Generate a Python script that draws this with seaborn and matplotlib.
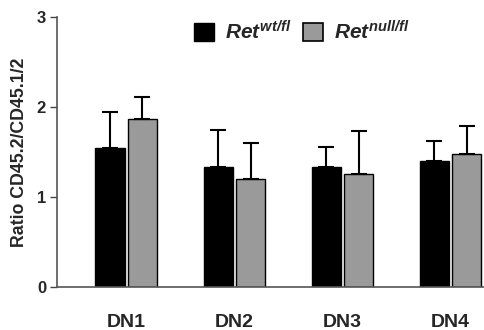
import numpy as np
import pandas as pd
import seaborn as sns
import matplotlib.pyplot as plt
from matplotlib.patches import Patch

# data
categories = ["DN1", "DN2", "DN3", "DN4"]
genotypes = ["wt", "null"]
wt_mean = [1.55, 1.33, 1.33, 1.40]
wt_err = [0.40, 0.42, 0.23, 0.22]
null_mean = [1.87, 1.20, 1.26, 1.48]
null_err = [0.24, 0.40, 0.47, 0.31]
yticks = [0, 1, 2, 3]

sns.set_style("white")
plt.rcParams["font.family"] = ["Liberation Sans", "DejaVu Sans"]
plt.rcParams["mathtext.fontset"] = "custom"
plt.rcParams["mathtext.it"] = "Liberation Sans:italic:bold"
plt.rcParams["mathtext.rm"] = "Liberation Sans:italic:bold"

df = pd.DataFrame({
    "cat": categories * 2,
    "geno": ["wt"] * 4 + ["null"] * 4,
    "ratio": wt_mean + null_mean,
    "err": wt_err + null_err,
})

fig = plt.figure(figsize=(4.84, 3.3), dpi=100)
ax = fig.add_axes([0.118, 0.130, 0.882, 0.818])

palette = {"wt": "black", "null": "#9a9a9a"}
sns.barplot(data=df, x="cat", y="ratio", hue="geno", hue_order=genotypes,
            palette=palette, width=0.6, gap=0.1, errorbar=None,
            edgecolor="black", linewidth=1.0, saturation=1, legend=False, ax=ax)

# one-sided error bars at each bar's centre
for container, errs in zip(ax.containers, [wt_err, null_err]):
    for bar, e in zip(container, errs):
        x = bar.get_x() + bar.get_width() / 2
        h = bar.get_height()
        ax.errorbar(x, h, yerr=[[0], [e]], fmt="none", ecolor="black",
                    elinewidth=1.5, capsize=5.5, capthick=1.5)

ax.set_ylim(0, 3)
ax.set_xlim(-0.64, 3.31)
ax.set_yticks(yticks)
ax.set_yticklabels([str(t) for t in yticks], fontsize=12, fontweight="bold")
ax.set_xticks(range(len(categories)))
ax.set_xticklabels(categories, fontsize=14, fontweight="bold")
ax.set_xlabel("")
ax.set_ylabel("Ratio CD45.2/CD45.1/2", fontsize=12.8, fontweight="bold", labelpad=6)

ax.tick_params(axis="y", which="both", left=True, length=5, width=1, color="#444444", pad=3)
ax.tick_params(axis="x", bottom=False, pad=16)
sns.despine(ax=ax, top=True, right=True)
for s in ["left", "bottom"]:
    ax.spines[s].set_color("#555555")
    ax.spines[s].set_linewidth(1.2)

handles = [Patch(facecolor="black", edgecolor="black"),
           Patch(facecolor="#9a9a9a", edgecolor="black", linewidth=1.2)]
labels = [r"$Ret^{wt/fl}$", r"$Ret^{null/fl}$"]
ax.legend(handles, labels, ncol=2, frameon=False, fontsize=15,
          loc="upper left", bbox_to_anchor=(0.30, 1.02),
          handlelength=1.0, handleheight=1.0, handletextpad=0.5,
          columnspacing=0.55, borderaxespad=0)

fig.savefig("out.png", dpi=100)
